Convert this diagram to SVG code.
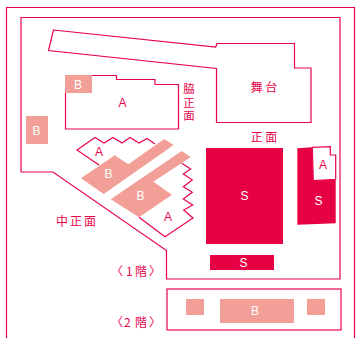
<svg xmlns="http://www.w3.org/2000/svg" width="359" height="338" viewBox="0 0 359 338">
<style>
.l{fill:none;stroke:#e8044a;stroke-width:1.2}
.w{fill:#fff;stroke:#e8044a;stroke-width:1.2}
.s{fill:#e80044}
.b{fill:#f29f97}
text{font-family:"Liberation Sans","Noto Sans CJK JP",sans-serif;font-size:12px;text-anchor:middle}
.t{fill:#e8044a}
.o{fill:#fff}
.j{font-family:"Noto Sans CJK JP",sans-serif;font-size:12px;fill:#e8044a}
.n{text-anchor:start}
</style>
<g id="frames">
<path class="l" d="M6.5 338V7.5H354.5V338"/>
<path class="l" d="M21 172V17.5H340V279H166.5V250.5L53 172Z"/>
<rect class="l" x="167" y="289" width="174" height="41"/>
</g>
<g id="stage">
<path class="l" d="M53.5 30L215.7 47L217 43.5H294.5V68H311V122.5H216.5V68.5L48.500 50.500Z"/>
<text class="j" x="264" y="92" xml:space="preserve">舞 台</text>
</g>
<g id="a-top">
<path class="l" d="M65.5 93V129H178.5V84.5H155V79.5H116.5V75.5H92"/>
<text class="t" x="122.500" y="107">A</text>
</g>
<g id="b-top">
<rect class="b" x="65" y="75" width="27" height="18"/>
<text class="o" x="78" y="89">B</text>
</g>
<g id="b-left">
<rect class="b" x="26" y="116" width="22" height="28"/>
<text class="o" x="36.500" y="135">B</text>
</g>
<g id="a-upper">
<path class="l" d="M155 144L147 138.500L139 143L130 137.500L122 143L113 137.500L104 143L95 137.500L77 150L99 165"/>
<text class="t" x="99" y="156">A</text>
</g>
<g id="a-lower">
<path class="l" d="M139 217.300L165 236.700L193 218L183.700 210L192.700 205L183.300 199L192.300 192.300L183.300 186.700L192.300 180L183.300 174L190.700 169L181.700 163.300"/>
<text class="t" x="168" y="221">A</text>
</g>
<g id="b-upper">
<path class="b" d="M81 178.300L114.700 155.300L128.300 164.300L164.300 139L173.700 145L103.700 194Z"/>
<text class="o" x="108.500" y="178">B</text>
</g>
<g id="b-lower">
<path class="b" d="M110.700 199.300L181.700 151L190.700 157L153.300 181.700L172 194.700L139 217.300Z"/>
<text class="o" x="140.500" y="200">B</text>
</g>
<g id="s-main">
<rect class="s" x="206" y="148" width="77" height="96"/>
<text class="o" x="244.500" y="200">S</text>
</g>
<g id="s-right">
<path class="s" d="M297.300 148.300L312.300 147.300L313.300 180.700L335.700 179.300V223.300L297.300 224.700Z"/>
<text class="o" x="318.500" y="205">S</text>
</g>
<g id="a-right">
<path class="w" d="M312.300 147.300L330.300 146.700V155H335.700V179.300L313.300 180.700Z"/>
<text class="t" x="323" y="169">A</text>
</g>
<g id="s-lower">
<rect class="s" x="210" y="255" width="64" height="15"/>
<text class="o" x="243.500" y="267">S</text>
</g>
<g id="b-2f">
<rect class="b" x="186" y="299" width="18" height="16"/>
<rect class="b" x="220" y="299" width="74" height="24"/>
<rect class="b" x="307" y="299" width="18" height="16"/>
<text class="o" x="255" y="315">B</text>
</g>
<g id="labels">
<text class="j n" x="189" y="83" style="font-size:11.500px;writing-mode:vertical-rl;letter-spacing:2px">脇正面</text>
<text class="j" x="264" y="142" xml:space="preserve">正 面</text>
<text class="j" x="77" y="226" style="letter-spacing:2px">中正面</text>
<text class="j n" x="111 126 135 149" y="276">〈1階〉</text>
<text class="j n" x="111 124 135 149" y="327">〈2階〉</text>
</g>
</svg>
